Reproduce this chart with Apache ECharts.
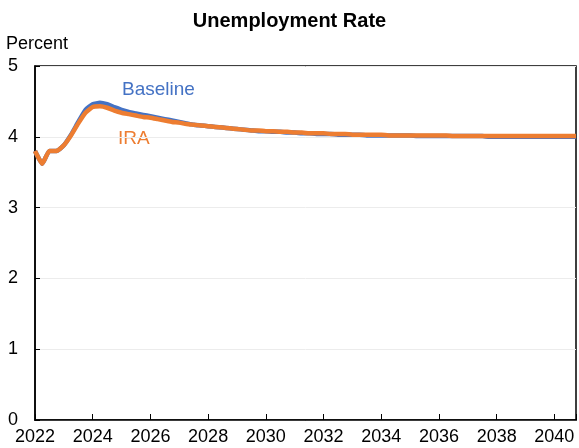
<!DOCTYPE html>
<html>
<head>
<meta charset="utf-8">
<script src="https://cdn.jsdelivr.net/npm/echarts@6/dist/echarts.min.js"></script>
<style>
  html, body { margin: 0; padding: 0; background: #fff; }
  #chart { width: 579px; height: 448px; }
</style>
</head>
<body>
<div id="chart"></div>
<script>
// quarterly values, 2022Q1 .. 2040Q4
const startYear = 2022
const baseline = [
  3.80, 3.62, 3.80, 3.80,
  3.88, 4.03, 4.21, 4.38,
  4.46, 4.48, 4.46, 4.42,
  4.38, 4.35, 4.33, 4.31,
  4.29, 4.27, 4.25, 4.23,
  4.21, 4.19, 4.17, 4.16,
  4.15, 4.14, 4.13, 4.12,
  4.11, 4.10, 4.09, 4.08,
  4.08, 4.07, 4.07, 4.06,
  4.06, 4.05, 4.05, 4.04,
  4.04, 4.04, 4.03, 4.03,
  4.03, 4.03, 4.02, 4.02,
  4.02, 4.02, 4.02, 4.02,
  4.02, 4.01, 4.01, 4.01,
  4.01, 4.01, 4.01, 4.01,
  4.01, 4.01, 4.01, 4.00,
  4.00, 4.00, 4.00, 4.00,
  4.00, 4.00, 4.00, 4.00,
  4.00, 4.00, 4.00, 4.00
]
const ira = [
  3.80, 3.62, 3.80, 3.80,
  3.88, 4.02, 4.19, 4.34,
  4.42, 4.43, 4.41, 4.37,
  4.34, 4.32, 4.30, 4.28,
  4.27, 4.25, 4.23, 4.21,
  4.20, 4.18, 4.17, 4.16,
  4.15, 4.14, 4.13, 4.12,
  4.11, 4.10, 4.09, 4.09,
  4.08, 4.08, 4.07, 4.07,
  4.06, 4.06, 4.05, 4.05,
  4.05, 4.04, 4.04, 4.04,
  4.03, 4.03, 4.03, 4.03,
  4.03, 4.02, 4.02, 4.02,
  4.02, 4.02, 4.02, 4.02,
  4.02, 4.02, 4.01, 4.01,
  4.01, 4.01, 4.01, 4.01,
  4.01, 4.01, 4.01, 4.01,
  4.01, 4.01, 4.01, 4.01,
  4.01, 4.01, 4.01, 4.01
]
const yTicks = [0, 1, 2, 3, 4, 5]

const toPairs = arr => arr.map((v, i) => [startYear + i * 0.25, v])

const font = 'Liberation Sans, Arial, sans-serif'
const chart = echarts.init(document.getElementById('chart'))

chart.setOption({
  animation: false,
  title: {
    text: 'Unemployment Rate',
    left: 'center',
    top: 6,
    textStyle: { fontFamily: font, fontSize: 20, fontWeight: 'bold', color: '#000' }
  },
  graphic: [
    { type: 'text', left: 6, top: 35, style: { text: 'Percent', font: '18px ' + font, fill: '#000' } },
    { type: 'text', left: 122, top: 80, style: { text: 'Baseline', font: '19px ' + font, fill: '#4472C4' } },
    { type: 'text', left: 118, top: 129, style: { text: 'IRA', font: '19px ' + font, fill: '#ED7D31' } }
  ],
  grid: {
    left: 35, top: 66, right: 2, bottom: 28,
    show: true, borderColor: '#000', borderWidth: 1.5
  },
  xAxis: {
    type: 'value',
    min: 2022, max: 2040.75, interval: 2,
    axisLine: { lineStyle: { color: '#000', width: 1.5 } },
    axisTick: { inside: true, length: 6, lineStyle: { color: '#000' } },
    splitLine: { show: false },
    axisLabel: {
      fontFamily: font, fontSize: 18, color: '#000', margin: 8,
      formatter: v => (v % 2 === 0 ? String(v) : '')
    }
  },
  yAxis: {
    type: 'value',
    min: yTicks[0], max: yTicks[yTicks.length - 1], interval: 1,
    axisLine: { show: true, lineStyle: { color: '#000', width: 1.5 } },
    axisTick: { show: true, inside: true, length: 5, lineStyle: { color: '#000' } },
    splitLine: { lineStyle: { color: '#ececec' } },
    axisLabel: { fontFamily: font, fontSize: 18, color: '#000', align: 'left', margin: 27 }
  },
  series: [
    {
      name: 'Baseline', type: 'line', showSymbol: false, smooth: 0.15,
      lineStyle: { color: '#4472C4', width: 4.5 },
      data: toPairs(baseline)
    },
    {
      name: 'IRA', type: 'line', showSymbol: false, smooth: 0.15,
      lineStyle: { color: '#ED7D31', width: 4.5 },
      data: toPairs(ira)
    }
  ]
})
</script>
</body>
</html>
